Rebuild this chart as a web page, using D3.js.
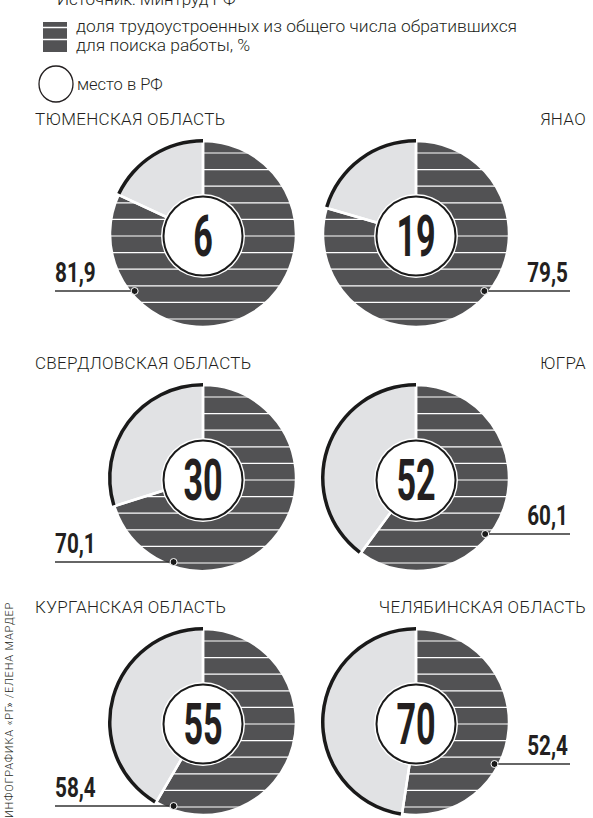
<!DOCTYPE html>
<html>
<head>
<meta charset="utf-8">
<script src="https://cdn.jsdelivr.net/npm/d3@7"></script>
<style>
  body { margin: 0; background: #fff; }
  svg { display: block; }
  .light { font-family: Roboto, "Noto Sans", sans-serif; font-weight: 300; fill: #231f20; }
  .bold { font-family: Roboto, "Liberation Sans", sans-serif; font-weight: 700; fill: #231f20; }
</style>
</head>
<body>
<script>
// данные: регион, доля трудоустроенных (%), место в РФ
var regions = ["ТЮМЕНСКАЯ ОБЛАСТЬ", "ЯНАО", "СВЕРДЛОВСКАЯ ОБЛАСТЬ", "ЮГРА", "КУРГАНСКАЯ ОБЛАСТЬ", "ЧЕЛЯБИНСКАЯ ОБЛАСТЬ"];
var shares = [81.9, 79.5, 70.1, 60.1, 58.4, 52.4];
var ranks = [6, 19, 30, 52, 55, 70];
var valueLabels = ["81,9", "79,5", "70,1", "60,1", "58,4", "52,4"];

var legendText = ["доля трудоустроенных из общего числа обратившихся", "для поиска работы, %"];
var rankText = "место в РФ";
var sourceText = "Источник: Минтруд РФ";
var credit = "ИНФОГРАФИКА «РГ» /ЕЛЕНА МАРДЕР";

(() => {
    var w = 593, h = 818;
    var dark = "#525254", light = "#e1e2e4";

    var svg = d3.select("body").append("svg").attr("width", w).attr("height", h);

    // сетка панелей: 2 колонки x 3 ряда
    var colX = d3.scaleOrdinal().domain([0, 1]).range([203, 416]);
    var rowY = d3.scaleLinear().domain([0, 2]).range([234, 722]);
    var r = 93;
    // где выноска касается круга (смещение по y от центра)
    var leaderDy = [57, 57, 84, 56, 84, 42];

    var arc = d3.arc().innerRadius(0).outerRadius(r);
    var rim = d3.arc().innerRadius(r - 1.5).outerRadius(r + 2);
    var pie = d3.pie().sort(null).value(d => d);
    var pct = d3.scaleLinear().domain([0, 100]).range([0, 2 * Math.PI]);

    // источник и легенда
    svg.append("text").attr("class", "light").attr("x", 57).attr("y", 5)
        .style("font-size", "17px").text(sourceText);

    var lg = svg.append("g");
    lg.append("rect").attr("x", 43).attr("y", 22).attr("width", 24).attr("height", 30).attr("fill", dark);
    [27.5, 39.5].forEach(y => {
        lg.append("line").attr("x1", 43).attr("x2", 67).attr("y1", y).attr("y2", y)
            .attr("stroke", "#fff").attr("stroke-width", 1.5);
    });
    lg.selectAll(".lt").data(legendText).enter().append("text").attr("class", "light")
        .attr("x", 76).attr("y", (d, i) => 32 + i * 19).style("font-size", "17.4px").text(d => d);
    lg.append("ellipse").attr("cx", 56).attr("cy", 84).attr("rx", 17).attr("ry", 18)
        .attr("fill", "none").attr("stroke", "#231f20").attr("stroke-width", 1.3);
    lg.append("text").attr("class", "light").attr("x", 77).attr("y", 90)
        .style("font-size", "16.5px").text(rankText);

    var data = regions.map((name, i) => ({
        name: name, share: shares[i], rank: ranks[i], label: valueLabels[i],
        col: i % 2, row: Math.floor(i / 2), dy: leaderDy[i]
    }));

    var panel = svg.selectAll(".panel").data(data).enter().append("g").attr("class", "panel")
        .attr("transform", d => "translate(" + [colX(d.col), rowY(d.row)] + ")");

    // заголовки
    panel.append("text").attr("class", "light")
        .attr("x", d => d.col == 0 ? 35 - colX(0) : 586 - colX(1))
        .attr("y", -r - 16)
        .attr("text-anchor", d => d.col == 0 ? "start" : "end")
        .style("font-size", "17px").style("letter-spacing", "0.3px")
        .text(d => d.name);

    // сектора
    var clipIds = 0;
    panel.each(function(d, i) {
        var g = d3.select(this);
        var slices = pie([d.share, 100 - d.share]);

        var cid = "clip" + (clipIds++);
        g.append("clipPath").attr("id", cid).append("path").attr("d", arc(slices[0]));

        g.append("path").attr("d", arc(slices[1])).attr("fill", light);
        g.append("path").attr("d", arc(slices[0])).attr("fill", dark);

        // горизонтальная штриховка
        var stripes = d3.range(-5, 6).map(k => 2 + k * 16.6);
        g.append("g").attr("clip-path", "url(#" + cid + ")")
            .selectAll("line").data(stripes).enter().append("line")
            .attr("x1", -r).attr("x2", r).attr("y1", s => s).attr("y2", s => s)
            .attr("stroke", "#fff").attr("stroke-width", 1.2);

        // белые разделители
        g.selectAll(".sep").data(slices).enter().append("path")
            .attr("d", arc).attr("fill", "none").attr("stroke", "#fff").attr("stroke-width", 2.5);

        // черный край у остатка
        g.append("path").attr("d", rim({ startAngle: pct(d.share) + 0.012, endAngle: 2 * Math.PI }))
            .attr("fill", "#1a1a1a");

        // место в РФ
        g.append("circle").attr("r", 42).attr("cy", 2).attr("fill", "#fff");
        g.append("circle").attr("r", 39.5).attr("cy", 2).attr("fill", "#fff")
            .attr("stroke", "#1a1a1a").attr("stroke-width", 2);
        g.append("text").attr("class", "bold")
            .attr("transform", "translate(0,22) scale(0.6,1)")
            .attr("text-anchor", "middle").style("font-size", "57px").text(d.rank);

        // выноска со значением
        var dx = Math.sqrt((r - 4) * (r - 4) - d.dy * d.dy) * (d.col == 0 ? -1 : 1);
        var lx = d.col == 0 ? 55 - colX(0) : 570 - colX(1);
        g.append("line").attr("x1", lx).attr("x2", dx).attr("y1", d.dy).attr("y2", d.dy)
            .attr("stroke", "#333").attr("stroke-width", 1.5);
        g.append("circle").attr("cx", dx).attr("cy", d.dy).attr("r", 3.5)
            .attr("fill", "#1a1a1a").attr("stroke", "#fff").attr("stroke-width", 1);
        g.append("text").attr("class", "bold")
            .attr("transform", "translate(" + [d.col == 0 ? lx : lx - 2, d.dy - 9] + ") scale(0.74,1)")
            .attr("text-anchor", d.col == 0 ? "start" : "end")
            .style("font-size", "28px").text(d.label);
    });

    // подпись автора
    svg.append("text").attr("class", "light")
        .attr("transform", "translate(13,818) rotate(-90)")
        .style("font-size", "11px").style("letter-spacing", "0.8px")
        .text(credit);
})();
</script>
</body>
</html>
